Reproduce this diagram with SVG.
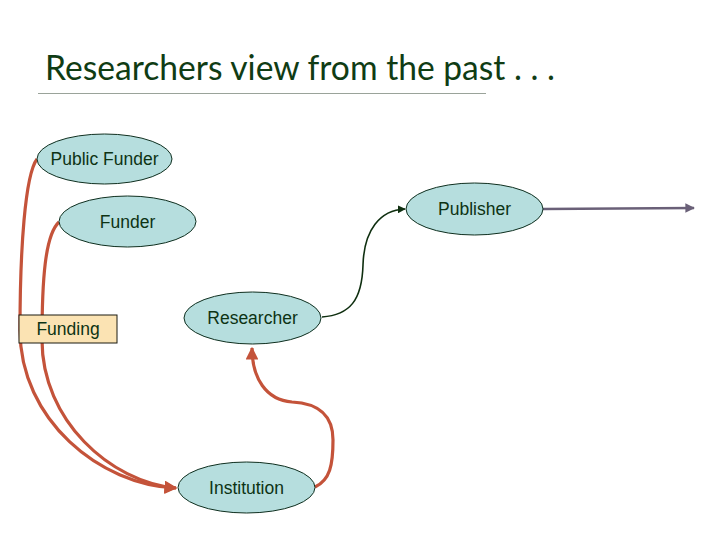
<svg xmlns="http://www.w3.org/2000/svg" width="720" height="540" viewBox="0 0 720 540">
<defs>
<style>
.node ellipse{fill:#b6dede;stroke:#0f2f1f;stroke-width:1}
.lbl{font-family:"Liberation Sans",Arial,sans-serif;font-size:17.5px;fill:#0d3314;text-anchor:middle;dominant-baseline:central}
.red{fill:none;stroke:#c4533a;stroke-width:3.2}
.dk{fill:none;stroke:#0f2f10;stroke-width:1.6}
</style>
<marker id="ar" viewBox="0 0 10 10" refX="9" refY="5" markerWidth="4" markerHeight="4" orient="auto" markerUnits="strokeWidth"><path d="M0 0L10 5L0 10z" fill="#c4533a"/></marker>
<marker id="ad" viewBox="0 0 10 10" refX="9" refY="5" markerWidth="5" markerHeight="5" orient="auto" markerUnits="strokeWidth"><path d="M0 0L10 5L0 10z" fill="#0f2f10"/></marker>
<marker id="ag" viewBox="0 0 10 10" refX="9" refY="5" markerWidth="4" markerHeight="4" orient="auto" markerUnits="strokeWidth"><path d="M0 0L10 5L0 10z" fill="#6a6078"/></marker>
</defs>
<rect width="720" height="540" fill="#fff"/>
<text x="45" y="80" font-family="Lato,'Open Sans',sans-serif" font-size="34" fill="#103c14" textLength="510" lengthAdjust="spacingAndGlyphs">Researchers view from the past . . .</text>
<line x1="38" y1="93.5" x2="486" y2="93.5" stroke="#9aa39a" stroke-width="1"/>
<g id="connectors">
<path class="red" d="M37 159 C25 175,20 250,20 330 C20 420,100 485,176 488" marker-end="url(#ar)"/>
<path class="red" d="M59 222 C45 235,42 280,42 340 C42 420,110 482,176 488" marker-end="url(#ar)"/>
<path class="red" d="M315 487 C330 480,333 465,333 440 C333 410,312 403,292 402 C266 400,252 378,252 348" marker-end="url(#ar)"/>
<path class="dk" d="M322 317 C350 315,362 300,363 265 C364 230,380 210,405 209" marker-end="url(#ad)"/>
<path d="M543 209 L694 208" fill="none" stroke="#6a6078" stroke-width="2.4" marker-end="url(#ag)"/>
</g>
<g id="public-funder" class="node"><ellipse cx="104.5" cy="159" rx="67.5" ry="25"/><text class="lbl" x="104.5" y="159">Public Funder</text></g>
<g id="funder" class="node"><ellipse cx="127.5" cy="221.5" rx="68.5" ry="25.5"/><text class="lbl" x="127.5" y="221.5">Funder</text></g>
<g id="funding" class="node"><rect x="19" y="315" width="98" height="28" fill="#fbe3b3" stroke="#1a1a10" stroke-width="1"/><text class="lbl" x="68" y="329">Funding</text></g>
<g id="researcher" class="node"><ellipse cx="252.5" cy="318" rx="68.5" ry="26"/><text class="lbl" x="252.5" y="318">Researcher</text></g>
<g id="publisher" class="node"><ellipse cx="474.5" cy="209" rx="68.5" ry="26"/><text class="lbl" x="474.5" y="209">Publisher</text></g>
<g id="institution" class="node"><ellipse cx="246.5" cy="487.5" rx="68.5" ry="25.5"/><text class="lbl" x="246.5" y="487.5">Institution</text></g>
</svg>
